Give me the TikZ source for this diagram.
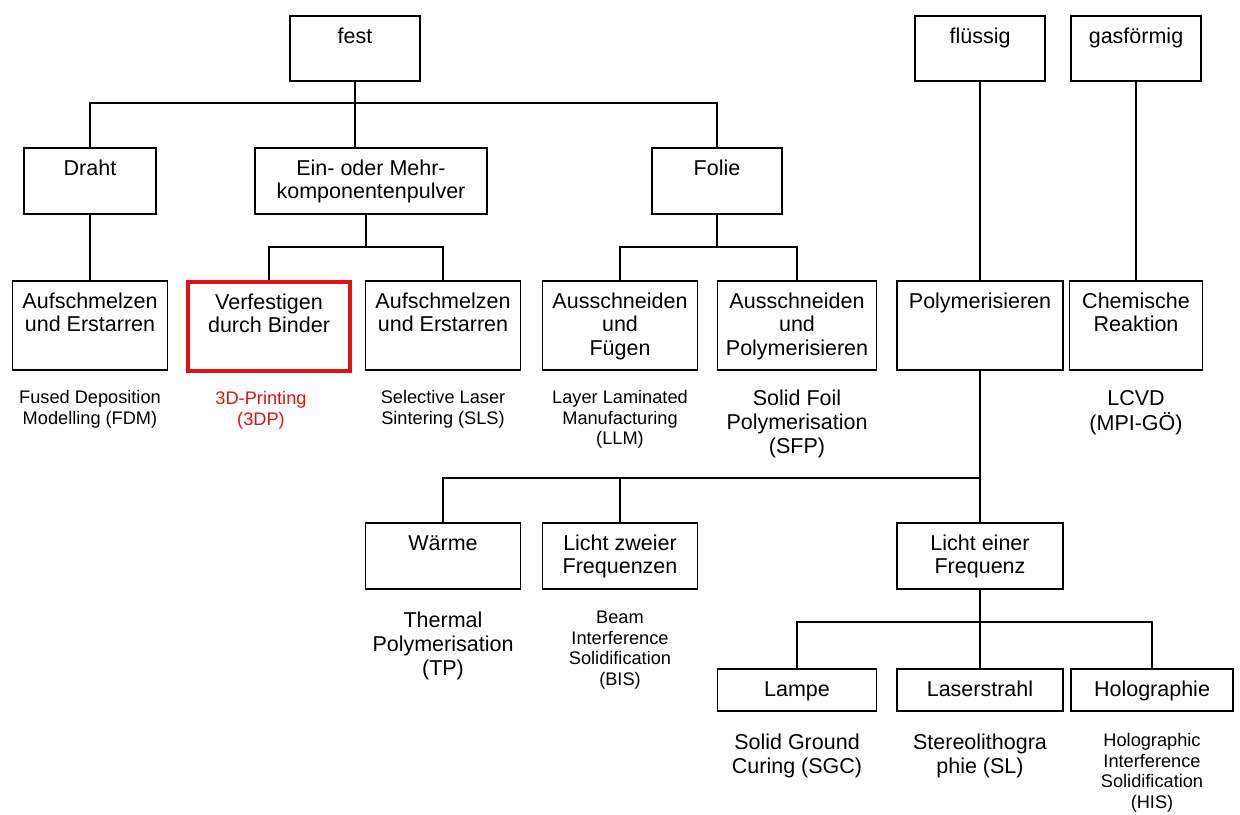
\documentclass[tikz,border=0pt]{standalone}
\usepackage{fontspec}
\setmainfont{Liberation Sans}
\newcommand{\boxfont}{\fontsize{10.75}{11.75}\selectfont}
\newcommand{\bigfont}{\fontsize{10.75}{12}\selectfont}
\newcommand{\smallfont}{\fontsize{9.1}{10.25}\selectfont}
% lines of a node text; the first line gives the baseline
\newcommand{\stack}[1]{\begin{tabular}[t]{@{}c@{}}#1\end{tabular}}
\definecolor{binderred}{RGB}{226,18,18}

\begin{document}
\begin{tikzpicture}
  [
    x = 0.5pt, y = -0.5pt,
    stage/.style     = {shape=rectangle, draw, line width=0.8pt,
                        anchor=north, inner sep=0pt,
                        text height=13.6pt, font=\boxfont},
    phase/.style     = {stage, text depth=18.9pt, minimum width=65pt},
    form/.style      = {stage, text depth=19.4pt, minimum width=65pt},
    process/.style   = {stage, text depth=30.9pt, minimum width=77.5pt},
    energy/.style    = {stage, text depth=19.4pt, minimum width=77.5pt},
    source/.style    = {stage, text depth=7.4pt, minimum width=80pt},
    highlight/.style = {draw=binderred, line width=2pt},
    method/.style    = {inner sep=0pt, anchor=base, font=\bigfont},
    minor/.style     = {method, font=\smallfont},
    % plain connecting lines of the tree
    link/.style      = {draw, line width=0.8pt}
  ]
  \useasboundingbox (0,0) rectangle (1240,814);

  % aggregate states
  \node [phase] (fest) at (355,15) {fest};
  \node [phase] (fluessig) at (980,15) {flüssig};
  \node [phase] (gas) at (1136,15) {gasförmig};

  % raw material forms
  \node [form, minimum width=66pt] (draht) at (90,147) {Draht};
  \node [form, minimum width=116pt] (ein) at (371,147)
    {\stack{Ein- oder Mehr-\\komponentenpulver}};
  \node [form] (folie) at (717,147) {Folie};

  % processes
  \node [process] (aufa) at (90,280) {\stack{Aufschmelzen\\und Erstarren}};
  \node [process, highlight, minimum width=81pt] (verf) at (269,280)
    {\stack{Verfestigen\\durch Binder}};
  \node [process] (aufb) at (443,280) {\stack{Aufschmelzen\\und Erstarren}};
  \node [process] (ausfuegen) at (620,280)
    {\stack{Ausschneiden\\und\\Fügen}};
  \node [process, minimum width=79.5pt] (auspoly) at (797,280)
    {\stack{Ausschneiden\\und\\Polymerisieren}};
  \node [process, minimum width=83pt] (poly) at (980,280) {Polymerisieren};
  \node [process, minimum width=66.5pt] (chem) at (1136,280)
    {\stack{Chemische\\Reaktion}};

  % methods
  \node [minor] (fdm) at (90,403.5) {\stack{Fused Deposition\\Modelling (FDM)}};
  \node [minor, text=binderred] (tdp) at (261,404.5)
    {\stack{3D-Printing\\(3DP)}};
  \node [minor] (sls) at (443,403.5) {\stack{Selective Laser\\Sintering (SLS)}};
  \node [minor] (llm) at (620,403.5)
    {\stack{Layer Laminated\\Manufacturing\\(LLM)}};
  \node [method] (sfp) at (797,405.5)
    {\stack{Solid Foil\\Polymerisation\\(SFP)}};
  \node [method] (lcvd) at (1136,405.5) {\stack{LCVD\\(MPI-GÖ)}};

  % kind of energy
  \node [energy] (waerme) at (443,522) {Wärme};
  \node [energy] (zweier) at (620,522) {\stack{Licht zweier\\Frequenzen}};
  \node [energy, minimum width=83pt] (licht) at (980,522)
    {\stack{Licht einer\\Frequenz}};

  \node [method] (tp) at (443,627.5) {\stack{Thermal\\Polymerisation\\(TP)}};
  \node [minor] (bis) at (620,623.5)
    {\stack{Beam\\Interference\\Solidification\\(BIS)}};

  % light sources
  \node [source, minimum width=79.5pt] (lampe) at (797,668) {Lampe};
  \node [source, minimum width=83pt] (laser) at (980,668) {Laserstrahl};
  \node [source, minimum width=81pt] (holo) at (1152,668) {Holographie};

  \node [method] (sgc) at (797,749.5) {\stack{Solid Ground\\Curing (SGC)}};
  \node [method] (sl) at (980,749.5) {\stack{Stereolithogra\\phie (SL)}};
  \node [minor] (his) at (1152,746.5)
    {\stack{Holographic\\Interference\\Solidification\\(HIS)}};

  % connectors
  \coordinate (festfork) at (355,103);
  \draw [link] (draht.north) |- (festfork) -| (folie.north);
  \draw [link] (fest.south) -- (fest.south |- ein.north);

  \coordinate (einfork) at (366,247);
  \draw [link] (ein.south -| einfork) -- (einfork);
  \draw [link] (verf.north) |- (einfork) -| (aufb.north);
  \draw [link] (draht) -- (aufa);

  \coordinate (foliefork) at (717,247);
  \draw [link] (folie) -- (foliefork);
  \draw [link] (ausfuegen.north) |- (foliefork) -| (auspoly.north);

  \draw [link] (fluessig) -- (poly);
  \draw [link] (gas) -- (chem);

  \coordinate (polyfork) at (980,478);
  \draw [link] (poly) -- (licht);
  \draw [link] (waerme.north) |- (polyfork);
  \draw [link] (zweier.north) -- (zweier.north |- polyfork);

  \coordinate (lichtfork) at (980,622);
  \draw [link] (licht) -- (laser);
  \draw [link] (lampe.north) |- (lichtfork) -| (holo.north);
\end{tikzpicture}
\end{document}
